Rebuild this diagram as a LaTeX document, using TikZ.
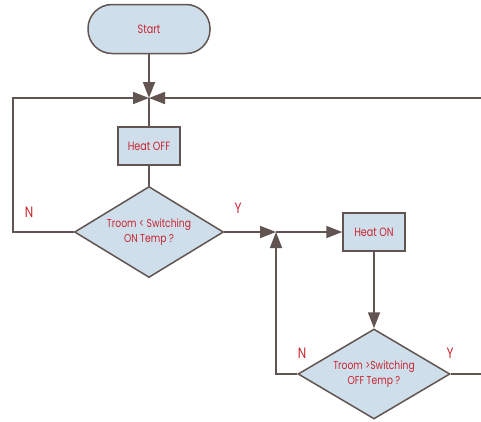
\documentclass[tikz,border=0pt]{standalone}
\usepackage{fontspec}
\setsansfont{Poppins}[FakeStretch=0.8]
\usetikzlibrary{shapes.geometric, arrows.meta}
\definecolor{lineC}{RGB}{98,84,80}
\definecolor{fillC}{RGB}{207,222,235}
\definecolor{textC}{RGB}{200,38,48}
\begin{document}
\begin{tikzpicture}[x=1pt, y=-1pt, font=\sffamily, line width=1.6pt, draw=lineC]
\tikzstyle{flow}=[draw=lineC, fill=fillC, text=textC, line width=1.5pt, font=\sffamily\fontsize{12}{13}\selectfont]
\tikzstyle{term}=[flow, rounded corners=24pt, minimum width=122pt, minimum height=49pt]
\tikzstyle{proc}=[flow, minimum width=62pt, minimum height=38pt, inner sep=0pt]
\tikzstyle{test}=[flow, diamond, aspect=1.64, inner sep=0pt, align=center, font=\sffamily\fontsize{11.5}{15}\selectfont]
\tikzstyle{yn}=[text=textC, font=\sffamily\fontsize{15}{16}\selectfont]
\tikzstyle{arr}=[draw=lineC, line width=1.7pt, -{Triangle[length=16pt, width=12pt]}]
\tikzstyle{wire}=[draw=lineC, line width=1.7pt]
\useasboundingbox (0,0) rectangle (481,421);

\node[term] (start) at (149,29) {Start};
\coordinate (j1) at (149,98);
\node[proc] (off) at (149,146) {Heat OFF};
\node[test, minimum width=149pt, minimum height=91pt] (d1) at (149,232) {Troom < Switching\\ON Temp ?};
\coordinate (j2) at (276,232);
\node[proc] (on) at (374,232) {Heat ON};
\node[test, minimum width=152pt, minimum height=90pt] (d2) at (374,374) {Troom >Switching\\OFF Temp ?};
\coordinate (eR1) at (481,98);
\coordinate (eR2) at (481,374);

% ruecklauf oben
\draw[arr] (start.south) -- (j1);
\draw[arr] (d1.west) -- ++(-61,0) |- (j1);
\draw[arr] (eR1) -- (j1);
\draw[wire] (j1) -- (off.north);
\draw[wire] (off.south) -- (d1.north);

% zweig heizen
\draw[arr] (d1.east) -- (j2);
\draw[arr] (j2) -- (on.west);
\draw[arr] (on.south) -- (d2.north);
\draw[arr] (d2.west) -| (j2);
\draw[wire] (d2.east) -- (eR2);

\node[yn] (n1) at (29,212) {N};
\node[yn] (y1) at (238,208) {Y};
\node[yn] (n2) at (302,353) {N};
\node[yn] (y2) at (450,353) {Y};
\end{tikzpicture}
\end{document}
